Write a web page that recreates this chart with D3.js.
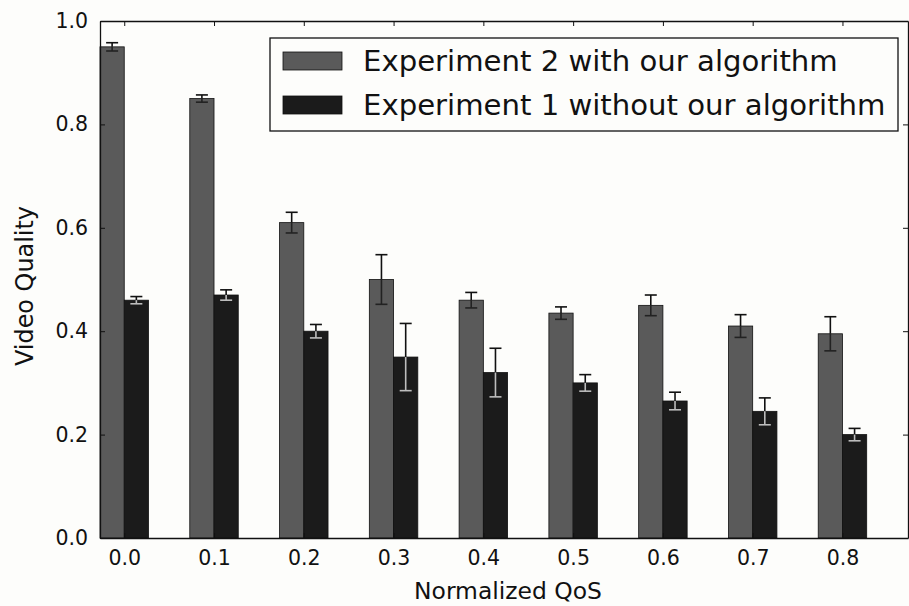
<!DOCTYPE html>
<html>
<head>
<meta charset="utf-8">
<script src="https://cdn.jsdelivr.net/npm/d3@7"></script>
<style>
  html, body { margin: 0; padding: 0; background: #fdfdfb; }
  svg { display: block; }
  text { font-family: "DejaVu Sans", sans-serif; fill: #111; }
</style>
</head>
<body>
<svg id="chart" width="909" height="606"></svg>
<script>
// ---- data ----
const categories = ["0.0", "0.1", "0.2", "0.3", "0.4", "0.5", "0.6", "0.7", "0.8"];
const withAlgorithm = [0.95, 0.85, 0.61, 0.50, 0.46, 0.435, 0.45, 0.41, 0.395];
const withAlgorithmErr = [0.008, 0.007, 0.02, 0.048, 0.015, 0.012, 0.02, 0.022, 0.033];
const withoutAlgorithm = [0.46, 0.47, 0.40, 0.35, 0.32, 0.30, 0.265, 0.245, 0.20];
const withoutAlgorithmErr = [0.007, 0.01, 0.013, 0.065, 0.047, 0.016, 0.017, 0.026, 0.012];
const yTicks = [0.0, 0.2, 0.4, 0.6, 0.8, 1.0];
const seriesNames = ["Experiment 2 with our algorithm", "Experiment 1 without our algorithm"];
const xLabel = "Normalized QoS";
const yLabel = "Video Quality";

(function () {
// ---- layout ----
const pLeft = 100, pRight = 908, pTop = 21, pBottom = 538;
const barW = 0.27;
const colors = ["#5a5a5a", "#1b1b1b"];

const svg = d3.select("#chart");
const x = d3.scaleLinear().domain([0, 9]).range([pLeft, pRight]);
const y = d3.scaleLinear().domain([0, 1]).range([pBottom, pTop]);

const series = [
  { name: seriesNames[0], values: withAlgorithm, errs: withAlgorithmErr, offset: 0, color: colors[0] },
  { name: seriesNames[1], values: withoutAlgorithm, errs: withoutAlgorithmErr, offset: barW, color: colors[1] }
];

// bars
series.forEach((s) => {
  svg.append("g").selectAll("rect").data(s.values).join("rect")
    .attr("x", (d, i) => x(i + s.offset))
    .attr("y", d => y(d))
    .attr("width", x(barW) - x(0))
    .attr("height", d => y(0) - y(d))
    .attr("fill", s.color)
    .attr("stroke", "#111")
    .attr("stroke-width", 0.8);
});

// error bars
series.forEach((s, si) => {
  const g = svg.append("g");
  const lowColor = si === 0 ? "#222" : "#bdbdbd";
  s.values.forEach((v, i) => {
    const cx = x(i + s.offset + barW / 2);
    const hi = y(v + s.errs[i]), lo = y(v - s.errs[i]), mid = y(v);
    g.append("line").attr("x1", cx).attr("x2", cx).attr("y1", hi).attr("y2", mid)
      .attr("stroke", "#111").attr("stroke-width", 1.6);
    g.append("line").attr("x1", cx).attr("x2", cx).attr("y1", mid).attr("y2", lo)
      .attr("stroke", lowColor).attr("stroke-width", 1.6);
    g.append("line").attr("x1", cx - 6).attr("x2", cx + 6).attr("y1", hi).attr("y2", hi)
      .attr("stroke", "#111").attr("stroke-width", 1.6);
    g.append("line").attr("x1", cx - 6).attr("x2", cx + 6).attr("y1", lo).attr("y2", lo)
      .attr("stroke", lowColor).attr("stroke-width", 1.6);
  });
});

// axes
const tickPos = categories.map((c, i) => i + barW);
const xAxisB = d3.axisBottom(x).tickValues(tickPos).tickFormat((d, i) => categories[i]).tickSizeInner(-5).tickSizeOuter(0).tickPadding(12);
const xAxisT = d3.axisTop(x).tickValues(tickPos).tickFormat("").tickSizeInner(-5).tickSizeOuter(0);
const yAxisL = d3.axisLeft(y).tickValues(yTicks).tickFormat(d3.format(".1f")).tickSizeInner(-5).tickSizeOuter(0).tickPadding(12);
const yAxisR = d3.axisRight(y).tickValues(yTicks).tickFormat("").tickSizeInner(-5).tickSizeOuter(0);

function styleAxis(g) {
  g.select(".domain").attr("stroke", "#111").attr("stroke-width", 1.3);
  g.selectAll(".tick line").attr("stroke", "#111").attr("stroke-width", 1);
  g.selectAll(".tick text").style("font-family", "'DejaVu Sans', sans-serif").style("font-size", "20.5px").attr("fill", "#111");
}
svg.append("g").attr("transform", `translate(0,${pBottom})`).call(xAxisB).call(styleAxis);
svg.append("g").attr("transform", `translate(0,${pTop})`).call(xAxisT).call(styleAxis);
svg.append("g").attr("transform", `translate(${pLeft},0)`).call(yAxisL).call(styleAxis);
svg.append("g").attr("transform", `translate(${pRight},0)`).call(yAxisR).call(styleAxis);

// axis labels, sized to match reference widths
function fitText(sel, target) {
  const w = sel.node().getComputedTextLength();
  sel.style("font-size", (20 * target / w) + "px");
}
const xl = svg.append("text").attr("x", 508).attr("y", 599).attr("text-anchor", "middle")
  .style("font-size", "20px").text(xLabel);
fitText(xl, 188);
const yl = svg.append("text").attr("transform", "translate(33,286) rotate(-90)").attr("text-anchor", "middle")
  .style("font-size", "20px").text(yLabel);
fitText(yl, 160);

// legend
const lg = svg.append("g");
lg.append("rect").attr("x", 270).attr("y", 38).attr("width", 628).attr("height", 93)
  .attr("fill", "#fdfdfb").attr("stroke", "#111").attr("stroke-width", 1.3);
const entryY = [61, 105];
series.forEach((s, i) => {
  lg.append("rect").attr("x", 283).attr("y", entryY[i] - 9).attr("width", 59).attr("height", 18)
    .attr("fill", s.color).attr("stroke", "#111").attr("stroke-width", 0.8);
  lg.append("text").attr("x", 363).attr("y", entryY[i]).attr("dy", "0.36em")
    .style("font-size", "25px").text(s.name);
});
const t0 = lg.selectAll("text").nodes()[0];
const w0 = t0.getComputedTextLength();
const fs = 25 * 475 / w0;
lg.selectAll("text").style("font-size", fs + "px");
})();
</script>
</body>
</html>
